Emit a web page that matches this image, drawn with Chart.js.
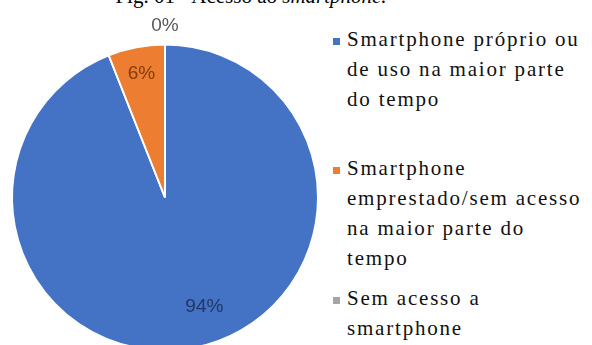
<!DOCTYPE html>
<html>
<head>
<meta charset="utf-8">
<script src="https://cdn.jsdelivr.net/npm/chart.js@4"></script>
<style>
    html, body { margin: 0; padding: 0; background: #fff; width: 592px; height: 345px; overflow: hidden; }
    #wrap { position: relative; width: 592px; height: 345px; overflow: hidden; }
    #title { position: absolute; left: 0; width: 502px; top: -14px; text-align: center;
             font: 21px "Liberation Serif", "Times New Roman", serif; line-height: 20px; color: #000; white-space: nowrap; }
    #chartBox { position: absolute; left: 0; top: 0; width: 330px; height: 362px; }
    .leg { position: absolute; left: 347px; font: 21px "Liberation Serif", "Times New Roman", serif; line-height: 30px;
           color: #111; letter-spacing: 1.8px; white-space: nowrap; }
    .leg .mk { position: absolute; left: -14px; top: 14px; width: 7px; height: 7px; }
</style>
</head>
<body>
<div id="wrap">
    <div id="title">Fig. 01 - Acesso ao <i>smartphone.</i></div>
    <div id="chartBox"><canvas id="pieChart"></canvas></div>
    <div id="legend"></div>
</div>
<script>
// --- Dados ---
const categories = [
    'Smartphone próprio ou de uso na maior parte do tempo',
    'Smartphone emprestado/sem acesso na maior parte do tempo',
    'Sem acesso a smartphone'
];
const legendLines = [
    ['Smartphone próprio ou', 'de uso na maior parte', 'do tempo'],
    ['Smartphone', 'emprestado/sem acesso', 'na maior parte do', 'tempo'],
    ['Sem acesso a', 'smartphone']
];
const percents = [94, 6, 0];
const valueLabels = ['94%', '6%', '0%'];

// --- Estilo ---
const sliceColors = ['#4472C4', '#ED7D31', '#A5A5A5'];
const labelColors = ['#1F3864', '#843C0C', '#595959'];
// distancia do rótulo (fração do raio) e deslocamento angular (graus)
const labelPlace = [[0.76, -9], [0.82, 0], [1.12, 0]];
const legendTops = [24, 153, 283];

// plugin simples pros rótulos de valor
const valueLabelPlugin = {
    id: 'valueLabels',
    afterDatasetsDraw(chart) {
        const { ctx } = chart;
        const meta = chart.getDatasetMeta(0);
        ctx.save();
        ctx.font = '19px "Liberation Sans", Arial, sans-serif';
        ctx.textAlign = 'center';
        ctx.textBaseline = 'middle';
        meta.data.forEach((arc, i) => {
            const p = arc.getProps(['x', 'y', 'startAngle', 'endAngle', 'outerRadius'], true);
            const [frac, shift] = labelPlace[i];
            const mid = (p.startAngle + p.endAngle) / 2 + shift * Math.PI / 180;
            const r = p.outerRadius * frac;
            ctx.fillStyle = labelColors[i];
            ctx.fillText(valueLabels[i], p.x + Math.cos(mid) * r, p.y + Math.sin(mid) * r);
        });
        ctx.restore();
    }
};

new Chart(document.getElementById('pieChart'), {
    type: 'pie',
    data: {
        labels: categories,
        datasets: [{
            data: percents,
            backgroundColor: sliceColors,
            borderColor: '#ffffff',
            borderWidth: 2,
            hoverOffset: 0
        }]
    },
    options: {
        responsive: true,
        maintainAspectRatio: false,
        animation: false,
        layout: { padding: { left: 11, right: 11, top: 43, bottom: 10 } },
        plugins: { legend: { display: false }, tooltip: { enabled: false } }
    },
    plugins: [valueLabelPlugin]
});

// legenda em HTML
const legendEl = document.getElementById('legend');
legendLines.forEach((lines, i) => {
    const div = document.createElement('div');
    div.className = 'leg';
    div.style.top = legendTops[i] + 'px';
    div.innerHTML = `<span class="mk" style="background:${sliceColors[i]}"></span>` + lines.join('<br>');
    legendEl.appendChild(div);
});
</script>
</body>
</html>
